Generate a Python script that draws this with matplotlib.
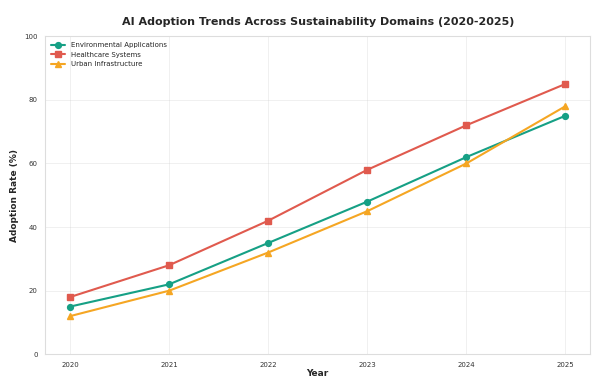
import matplotlib.pyplot as plt
import seaborn as sns

sns.set_style("whitegrid")
plt.rcParams['font.family'] = ['DejaVu Sans']

years = [2020, 2021, 2022, 2023, 2024, 2025]
environmental = [15, 22, 35, 48, 62, 75]
healthcare = [18, 28, 42, 58, 72, 85]
urban = [12, 20, 32, 45, 60, 78]

fig, ax = plt.subplots(figsize=(5.95, 3.81), dpi=100)

ax.plot(years, environmental, color='#16a085', marker='o', lw=1.5, ms=4.2, label='Environmental Applications')
ax.plot(years, healthcare, color='#e05a4e', marker='s', lw=1.5, ms=4.0, label='Healthcare Systems')
ax.plot(years, urban, color='#f5a623', marker='^', lw=1.5, ms=4.4, label='Urban Infrastructure')

ax.set_ylim(0, 100)
ax.set_xticks(years)
ax.tick_params(labelsize=5, colors='#333333', pad=2)
ax.set_title('AI Adoption Trends Across Sustainability Domains (2020-2025)', fontsize=8, fontweight='bold', pad=8)
ax.set_xlabel('Year', fontsize=6.5, fontweight='bold', labelpad=1)
ax.set_ylabel('Adoption Rate (%)', fontsize=6.5, fontweight='bold')
ax.grid(True, alpha=0.4, lw=0.5)
for s in ax.spines.values():
    s.set_color('#dddddd')
ax.legend(loc='upper left', fontsize=5, frameon=False)

plt.subplots_adjust(left=0.076, right=0.992, top=0.905, bottom=0.07)
plt.savefig('out.png', dpi=100)
